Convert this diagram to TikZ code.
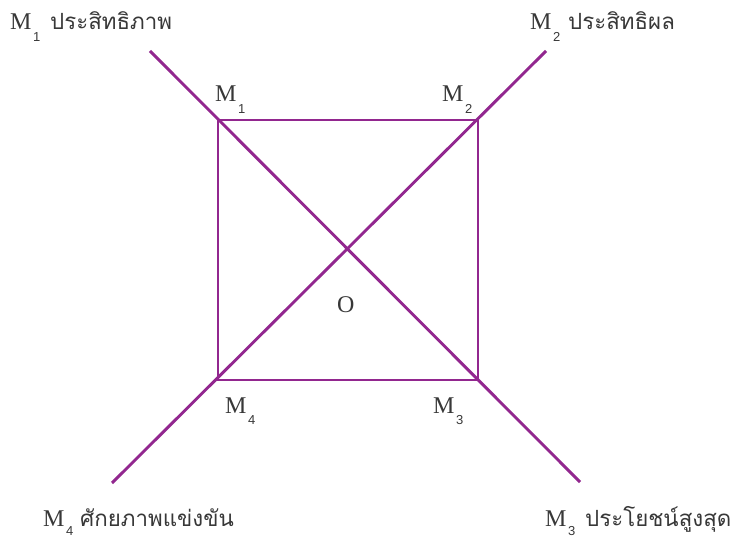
\documentclass[tikz,border=0pt]{standalone}
\usepackage{fontspec}
\newfontfamily\thaifont[Script=Thai]{Loma}
\newfontfamily\mfont{Liberation Serif}
\newfontfamily\digfont{Liberation Sans}
\definecolor{linepurple}{HTML}{92278F}
\definecolor{txtgray}{HTML}{383838}
\newcommand\mlab[2][12pt]{{\mfont\fontsize{24}{26}\selectfont M}\kern1.5pt\raisebox{-#1}{\digfont\fontsize{13}{13}\selectfont #2}}
\tikzset{
  lbl/.style={anchor=base west, inner sep=0pt, text=txtgray},
  thai/.style={anchor=base west, inner sep=0pt, text=txtgray, font=\thaifont\fontsize{22.3}{26}\selectfont},
  pline/.style={draw=linepurple, line width=2.9pt}
}
\begin{document}
\begin{tikzpicture}[x=1pt,y=-1pt]
\useasboundingbox (0,0) rectangle (737,540);
\coordinate (M1) at (218,120);
\coordinate (M2) at (478,120);
\coordinate (M3) at (478,380);
\coordinate (M4) at (218,380);
\coordinate (A1) at (150,51);
\coordinate (A3) at (580,482);
\coordinate (A2) at (546,51);
\coordinate (A4) at (112,483);
\draw[pline] (M1) -- (M2) -- (M3) -- (M4) -- cycle;
\draw[pline] (A1) -- (A3);
\draw[pline] (A4) -- (A2);
% outer labels
\node[lbl] (t1) at (10,30) {\mlab{1}};
\node[thai] (h1) at (50,30) {ประสิทธิภาพ};
\node[lbl] (t2) at (530,30) {\mlab{2}};
\node[thai] (h2) at (568,30) {ประสิทธิผล};
\node[lbl] (t4) at (43,526) {\mlab[9pt]{4}};
\node[thai] (h4) at (80,526) {ศักยภาพแข่งขัน};
\node[lbl] (t3) at (545,526) {\mlab[9pt]{3}};
\node[thai] (h3) at (585,526) {ประโยชน์สูงสุด};
% corner labels
\node[lbl] (c1) at (215,102) {\mlab{1}};
\node[lbl] (c2) at (442,102) {\mlab{2}};
\node[lbl] (c4) at (225,413) {\mlab{4}};
\node[lbl] (c3) at (433,413) {\mlab{3}};
\node[lbl, font=\mfont\fontsize{24}{26}\selectfont] (o) at (337,313) {O};
\end{tikzpicture}
\end{document}
